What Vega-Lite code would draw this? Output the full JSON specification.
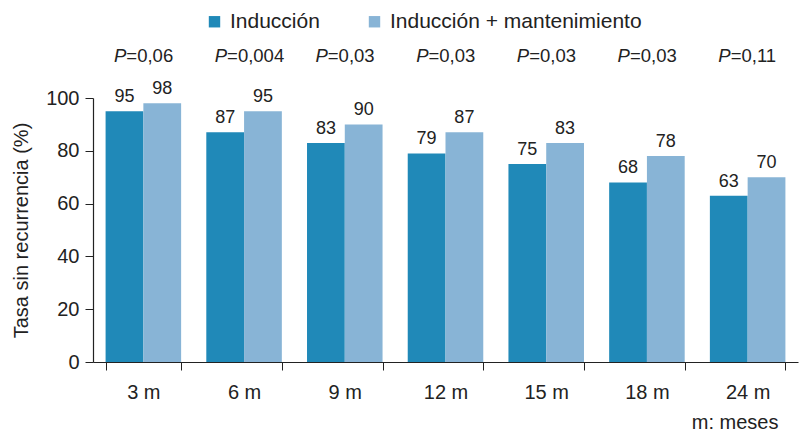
{
  "$schema": "https://vega.github.io/schema/vega-lite/v6.json",
  "width": 705,
  "height": 264,
  "autosize": "none",
  "padding": {"left": 93, "top": 98, "right": 3, "bottom": 69},
  "background": "white",
  "config": {
    "font": "Liberation Sans",
    "view": {"stroke": null},
    "axis": {"grid": false, "domainColor": "#222", "tickColor": "#222", "labelColor": "#222", "titleColor": "#222", "labelFont": "Liberation Sans", "titleFont": "Liberation Sans", "titleFontWeight": "normal", "labelFontSize": 20, "titleFontSize": 20}
  },
  "datasets": {
    "barras": [
      {"mes": "3 m", "grupo": "Inducción", "valor": 95},
      {"mes": "3 m", "grupo": "Inducción + mantenimiento", "valor": 98},
      {"mes": "6 m", "grupo": "Inducción", "valor": 87},
      {"mes": "6 m", "grupo": "Inducción + mantenimiento", "valor": 95},
      {"mes": "9 m", "grupo": "Inducción", "valor": 83},
      {"mes": "9 m", "grupo": "Inducción + mantenimiento", "valor": 90},
      {"mes": "12 m", "grupo": "Inducción", "valor": 79},
      {"mes": "12 m", "grupo": "Inducción + mantenimiento", "valor": 87},
      {"mes": "15 m", "grupo": "Inducción", "valor": 75},
      {"mes": "15 m", "grupo": "Inducción + mantenimiento", "valor": 83},
      {"mes": "18 m", "grupo": "Inducción", "valor": 68},
      {"mes": "18 m", "grupo": "Inducción + mantenimiento", "valor": 78},
      {"mes": "24 m", "grupo": "Inducción", "valor": 63},
      {"mes": "24 m", "grupo": "Inducción + mantenimiento", "valor": 70}
    ],
    "pvalores": [
      {"mes": "3 m", "p": "=0,06"},
      {"mes": "6 m", "p": "=0,004"},
      {"mes": "9 m", "p": "=0,03"},
      {"mes": "12 m", "p": "=0,03"},
      {"mes": "15 m", "p": "=0,03"},
      {"mes": "18 m", "p": "=0,03"},
      {"mes": "24 m", "p": "=0,11"}
    ]
  },
  "layer": [
    {
      "data": {"name": "barras"},
      "mark": {"type": "bar"},
      "encoding": {
        "x": {"field": "mes", "type": "nominal", "sort": null,
          "scale": {"paddingInner": 0.25, "paddingOuter": 0.125},
          "axis": {"labelAngle": 0, "tickBand": "extent", "tickSize": 8, "labelPadding": 12, "domainWidth": 1.2,
            "title": "m: meses", "titleAlign": "right", "titleAnchor": null, "titleX": 685, "titleY": 66, "titleBaseline": "alphabetic"}},
        "xOffset": {"field": "grupo", "type": "nominal", "sort": null},
        "y": {"field": "valor", "type": "quantitative",
          "scale": {"domain": [0, 100], "nice": false},
          "axis": {"values": [0, 20, 40, 60, 80, 100], "tickSize": 8, "labelPadding": 6, "domainWidth": 1.2,
            "title": "Tasa sin recurrencia (%)", "titlePadding": 14}},
        "color": {"field": "grupo", "type": "nominal", "sort": null,
          "scale": {"range": ["#2089b8", "#88b4d6"]},
          "legend": {"title": null, "orient": "none", "direction": "horizontal", "legendX": 111, "legendY": -87,
            "symbolType": "square", "symbolSize": 130, "symbolStrokeWidth": 0, "symbolOpacity": 1,
            "labelFontSize": 21, "labelFont": "Liberation Sans", "labelColor": "#222", "labelOffset": 5, "columnPadding": 44, "labelLimit": 0}}
      }
    },
    {
      "data": {"name": "barras"},
      "mark": {"type": "text", "baseline": "alphabetic", "dy": -9, "fontSize": 18, "color": "#222"},
      "encoding": {
        "x": {"field": "mes", "type": "nominal", "sort": null},
        "xOffset": {"field": "grupo", "type": "nominal", "sort": null},
        "y": {"field": "valor", "type": "quantitative"},
        "text": {"field": "valor", "type": "quantitative"}
      }
    },
    {
      "data": {"name": "pvalores"},
      "mark": {"type": "text", "align": "right", "baseline": "alphabetic", "dx": -17, "fontSize": 18.5, "fontStyle": "italic", "color": "#222"},
      "encoding": {
        "x": {"field": "mes", "type": "nominal", "sort": null},
        "y": {"datum": 113.6, "type": "quantitative"},
        "text": {"value": "P"}
      }
    },
    {
      "data": {"name": "pvalores"},
      "mark": {"type": "text", "align": "left", "baseline": "alphabetic", "dx": -17, "fontSize": 18.5, "color": "#222"},
      "encoding": {
        "x": {"field": "mes", "type": "nominal", "sort": null},
        "y": {"datum": 113.6, "type": "quantitative"},
        "text": {"field": "p", "type": "nominal"}
      }
    }
  ]
}
